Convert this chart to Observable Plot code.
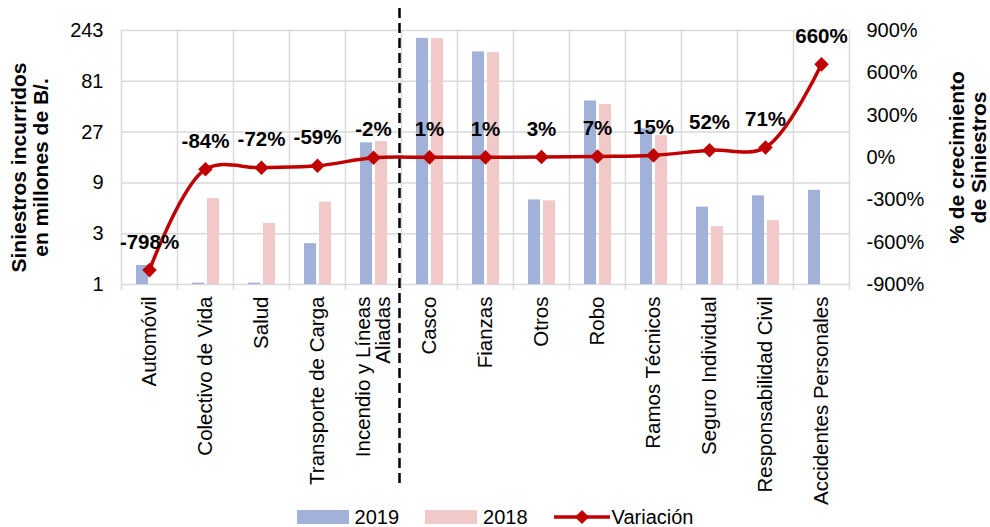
<!DOCTYPE html>
<html>
<head>
<meta charset="utf-8">
<script src="https://cdn.jsdelivr.net/npm/d3@7"></script>
<script src="https://cdn.jsdelivr.net/npm/@observablehq/plot@0.6"></script>
<style>
  body { margin: 0; background: #fff; font-family: "Liberation Sans", Arial, sans-serif; overflow: hidden; }
  #chart svg { display: block; }
  #legend { height: 20px; display: flex; justify-content: center; align-items: center; font-size: 20px; line-height: 20px; color: #000; }
  .item { display: flex; align-items: center; margin: 0 13px; }
  .sw { width: 52px; height: 14px; margin-right: 6px; }
</style>
</head>
<body>
<div id="chart"></div>
<div id="legend"></div>
<script>
const categories = ["Automóvil", "Colectivo de Vida", "Salud", "Transporte de Carga", "Incendio y Líneas\nAliadas",
  "Casco", "Fianzas", "Otros", "Robo", "Ramos Técnicos", "Seguro Individual", "Responsabilidad Civil", "Accidentes Personales"];
const values2019 = [1.51, 1.03, 1.03, 2.42, 21.4, 205, 153, 6.23, 53, 29, 5.33, 6.8, 7.67];
const values2018 = [null, 6.42, 3.75, 5.94, 22.0, 204, 151, 6.1, 49.1, 25, 3.49, 3.97, null];
const variation = [-798, -84, -72, -59, -2, 1, 1, 3, 7, 15, 52, 71, 660];
const leftTicks = [1, 3, 9, 27, 81, 243];
const rightTicks = [-900, -600, -300, 0, 300, 600, 900];
const seriesNames = ["2019", "2018", "Variación"];
const colors = {"2019": "#A2B1D7", "2018": "#F2C9C9", "Variación": "#C00000"};

const W = 990, H = 507, mL = 121, mR = 141, mT = 30, mB = 223;
const bw = (W - mL - mR) / categories.length;

// map right-axis percentage to the left log scale domain [1, 243]
const toLeft = v => Math.pow(3, (v + 900) / 1800 * 5);

const data = categories.map((c, i) => ({cat: c, v2019: values2019[i], v2018: values2018[i], varPct: variation[i], vy: toLeft(variation[i])}));
const rightTickData = rightTicks.map(t => ({pct: t, y: toLeft(t)}));

const font = "Liberation Sans, Arial, sans-serif";

const chart = Plot.plot({
  width: W, height: H,
  marginLeft: mL, marginRight: mR, marginTop: mT, marginBottom: mB,
  style: {fontFamily: font, fontSize: "20px", color: "#000", background: "#fff"},
  x: {type: "band", domain: categories, padding: 0, axis: null},
  y: {type: "log", base: 3, domain: [1, 243], axis: null},
  marks: [
    Plot.gridY(leftTicks, {stroke: "#d9d9d9", strokeOpacity: 1, strokeWidth: 1.5}),
    Plot.ruleX(categories, {dx: -bw / 2, stroke: "#d9d9d9", strokeWidth: 1.5, insetBottom: -6}),
    Plot.ruleX([categories[categories.length - 1]], {dx: bw / 2, stroke: "#d9d9d9", strokeWidth: 1.5, insetBottom: -6}),
    Plot.barY(data, {x: "cat", y1: 1, y2: "v2019", fill: colors["2019"], insetLeft: 15, insetRight: 29}),
    Plot.barY(data, {x: "cat", y1: 1, y2: "v2018", fill: colors["2018"], insetLeft: 30, insetRight: 14}),
    Plot.ruleX([categories[4]], {dx: bw / 2 - 2, stroke: "#000", strokeWidth: 2.5, strokeDasharray: "10,5", insetTop: -22, insetBottom: -201}),
    Plot.line(data, {x: "cat", y: "vy", stroke: colors["Variación"], strokeWidth: 3.5, curve: "catmull-rom"}),
    Plot.dot(data, {x: "cat", y: "vy", symbol: "square", rotate: 45, r: 5.8, fill: colors["Variación"], stroke: "none"}),
    Plot.text(data, {x: "cat", y: "vy", text: d => d.varPct + "%", dy: -28, fontWeight: "bold", fontSize: 20.5, fill: "#000"}),
    Plot.axisY(leftTicks, {anchor: "left", tickSize: 0, tickPadding: 18, fontSize: 20, tickFormat: d => d}),
    Plot.text(rightTickData, {y: "y", text: d => d.pct + "%", frameAnchor: "right", textAnchor: "start", dx: 17, fontSize: 20, fill: "#000"}),
    Plot.text(categories, {x: d => d, text: d => d, frameAnchor: "bottom", rotate: -90, textAnchor: "end", lineAnchor: "middle", dy: 12, fontSize: 20.5, lineHeight: 0.97, fill: "#000"}),
    Plot.text(["Siniestros incurridos\nen millones de B/."], {frameAnchor: "left", textAnchor: "middle", dx: -92, dy: 10, rotate: -90, fontWeight: "bold", fontSize: 21, lineHeight: 1.05, fill: "#000"}),
    Plot.text(["% de crecimiento\nde Siniestros"], {frameAnchor: "right", textAnchor: "middle", dx: 118, rotate: -90, fontWeight: "bold", fontSize: 21, lineHeight: 1.05, fill: "#000"}),
    Plot.text(["Menos Siniestros"], {x: categories[2], y: 121, dx: -18, fontWeight: "bold", fontStyle: "italic", fontFamily: "Noto Sans", fontSize: 16, fill: "#000"}),
    Plot.text(["mayor siniestros"], {x: categories[8], y: 112, dx: 19, fontWeight: "bold", fontStyle: "italic", fontFamily: "Noto Sans", fontSize: 16, fill: "#000"})
  ]
});
document.getElementById("chart").appendChild(chart);

const legend = document.getElementById("legend");
seriesNames.forEach(name => {
  const item = document.createElement("div");
  item.className = "item";
  if (name === "Variación") {
    item.innerHTML = `<svg width="56" height="16" style="margin-right:2px"><line x1="0" x2="56" y1="8" y2="8" stroke="${colors[name]}" stroke-width="3.5"/><rect x="23" y="3" width="10" height="10" fill="${colors[name]}" transform="rotate(45 28 8)"/></svg><span>${name}</span>`;
  } else {
    item.innerHTML = `<div class="sw" style="background:${colors[name]}"></div><span>${name}</span>`;
  }
  legend.appendChild(item);
});
</script>
</body>
</html>
